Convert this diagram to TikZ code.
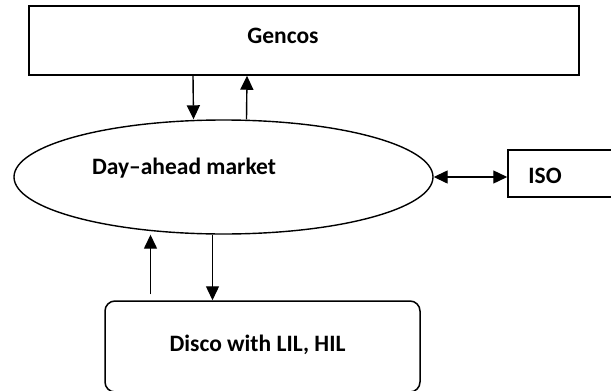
\documentclass[tikz,border=0pt]{standalone}
\usepackage{fontspec}
\setmainfont{Carlito}
\usetikzlibrary{shapes.geometric,arrows.meta}
\tikzset{
sqbox/.style={
	draw,
	rectangle,
	inner sep=0pt,
	line width=1.5pt
}
}
\tikzset{
rndbox/.style={
	draw,
	rectangle,
	rounded corners=10pt,
	inner sep=0pt,
	line width=1.5pt
}
}
\tikzset{
oval/.style={
	draw,
	ellipse,
	inner sep=0pt,
	line width=1.4pt
}
}
\tikzset{
lbl/.style={
	font=\fontsize{23.5}{28}\selectfont\bfseries,
	inner sep=0pt,
	anchor=base
}
}
\tikzset{
arr/.style={-{Triangle[length=14pt,width=13pt]}, line width=1.4pt},
dblarr/.style={{Triangle[length=14pt,width=13pt]}-{Triangle[length=14pt,width=13pt]}, line width=1.4pt}
}

\begin{document}
\begin{tikzpicture}[x=1pt,y=-1pt]
		\useasboundingbox (0,0) rectangle (611,391);
		\node[sqbox, minimum width=550pt, minimum height=69pt] (gencos) at (304,40.5) {};
		\node[oval, minimum width=419pt, minimum height=114pt] (market) at (223.5,177) {};
		\node[sqbox, minimum width=112pt, minimum height=47pt] (iso) at (564,173.5) {};
		\node[rndbox, minimum width=315pt, minimum height=91pt] (disco) at (262.5,346.5) {};
		\node[lbl] (gencostxt) at (283,43) {Gencos};
		\node[lbl] (markettxt) at (184,174) {Day–ahead market};
		\node[lbl] (isotxt) at (545,183) {ISO};
		\node[lbl] (discotxt) at (257.5,351) {Disco with LIL, HIL};
		\draw[arr] ([xshift=-111pt]gencos.south) -- ([xshift=-30pt]market.north);
		\draw[arr] ([xshift=23pt]market.north) -- ([xshift=-57pt]gencos.south);
		\draw[arr] ([xshift=-112pt,yshift=6pt]disco.north) -- ([xshift=-73pt]market.south);
		\draw[arr] ([xshift=-11pt]market.south) -- ([xshift=-50pt]disco.north);
		\draw[dblarr] (market.east) -- (market.east -| iso.west);
		\end{tikzpicture}
\end{document}
